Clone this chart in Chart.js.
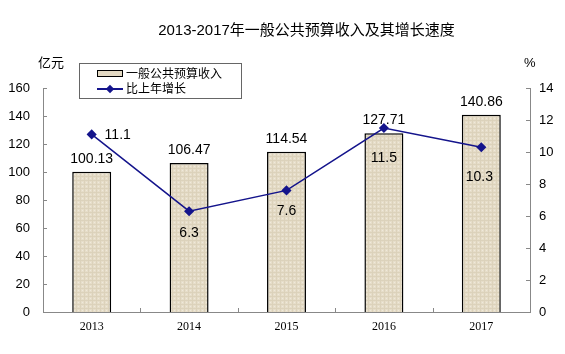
<!DOCTYPE html>
<html lang="zh">
<head>
  <meta charset="UTF-8">
  <title>2013-2017年一般公共预算收入及其增长速度</title>
  <script src="https://cdn.jsdelivr.net/npm/chart.js"></script>
  <style>
    body { margin: 0; background: #fff; }
    #wrap { position: relative; width: 565px; height: 354px; font-family: "Liberation Sans", "Noto Sans CJK SC", sans-serif; color: #000; }
    #title { position: absolute; left: 24px; top: 20px; width: 565px; text-align: center; font-size: 15px; line-height: 20px; }
    .unit { position: absolute; top: 54px; font-size: 13px; line-height: 18px; }
    #legend { position: absolute; left: 79px; top: 63px; width: 163px; height: 36px; border: 1px solid #666; box-sizing: border-box; font-size: 12px; }
    .item { position: absolute; left: 17px; height: 16px; line-height: 16px; }
    .sw { position: absolute; left: 0; top: 4px; width: 26px; height: 7px; background: #e3d9c3; border: 1px solid #000; box-sizing: border-box; }
    .ln { position: absolute; left: 0; top: 7px; width: 26px; height: 2px; background: #14148c; }
    .dm { position: absolute; left: 10px; top: 5px; width: 6px; height: 6px; background: #14148c; transform: rotate(45deg); }
    .item span { position: absolute; left: 29px; white-space: nowrap; }
  </style>
</head>
<body>
<div id="wrap">
  <canvas id="c" width="565" height="354"></canvas>
  <div id="title">2013-2017年一般公共预算收入及其增长速度</div>
  <div class="unit" style="left:38px">亿元</div>
  <div class="unit" style="left:524px">%</div>
  <div id="legend">
    <div class="item" style="top:2px"><div class="sw"></div><span>一般公共预算收入</span></div>
    <div class="item" style="top:17px"><div class="ln"></div><div class="dm"></div><span>比上年增长</span></div>
  </div>
</div>
<script>
  const years = ['2013', '2014', '2015', '2016', '2017'];
  const revenue = [100.13, 106.47, 114.54, 127.71, 140.86];
  const growth = [11.1, 6.3, 7.6, 11.5, 10.3];
  const leftTicks = [0, 20, 40, 60, 80, 100, 120, 140, 160];
  const rightTicks = [0, 2, 4, 6, 8, 10, 12, 14];

  // slight woven texture for the bars
  function makePattern() {
    const p = document.createElement('canvas');
    p.width = 4; p.height = 4;
    const g = p.getContext('2d');
    g.fillStyle = '#e6ddc9';
    g.fillRect(0, 0, 4, 4);
    g.fillStyle = '#dcd2bb';
    g.fillRect(0, 0, 4, 1);
    g.fillRect(0, 0, 1, 4);
    g.fillStyle = '#efe9db';
    g.fillRect(2, 2, 1, 1);
    return document.getElementById('c').getContext('2d').createPattern(p, 'repeat');
  }

  const growthOffsets = [[26, 1], [0, 22], [0, 21], [0, 30], [-2, 30]];

  const labelPlugin = {
    id: 'labels',
    afterDatasetsDraw(chart) {
      const ctx = chart.ctx;
      ctx.save();
      ctx.font = '14px "Liberation Sans", Arial, sans-serif';
      ctx.fillStyle = '#000';
      ctx.textAlign = 'center';
      ctx.textBaseline = 'middle';
      chart.getDatasetMeta(1).data.forEach((bar, i) => {
        ctx.fillText(revenue[i].toFixed(2), bar.x, bar.y - 13);
      });
      chart.getDatasetMeta(0).data.forEach((pt, i) => {
        const o = growthOffsets[i];
        ctx.fillText(growth[i].toFixed(1), pt.x + o[0], pt.y + o[1]);
      });
      ctx.restore();
    },
    afterDraw(chart) {
      // inward tick marks
      const ctx = chart.ctx;
      const a = chart.chartArea;
      const s = chart.scales;
      ctx.save();
      ctx.strokeStyle = '#888';
      ctx.lineWidth = 1;
      ctx.beginPath();
      leftTicks.forEach(v => {
        const y = Math.round(s.y.getPixelForValue(v)) + 0.5;
        ctx.moveTo(a.left, y); ctx.lineTo(a.left + 4, y);
      });
      rightTicks.forEach(v => {
        const y = Math.round(s.y1.getPixelForValue(v)) + 0.5;
        ctx.moveTo(a.right, y); ctx.lineTo(a.right - 4, y);
      });
      const w = (a.right - a.left) / years.length;
      for (let i = 1; i < years.length; i++) {
        const x = Math.round(a.left + w * i) + 0.5;
        ctx.moveTo(x, a.bottom); ctx.lineTo(x, a.bottom - 4);
      }
      ctx.stroke();
      ctx.restore();
    }
  };

  new Chart(document.getElementById('c'), {
    data: {
      labels: years,
      datasets: [
        {
          type: 'line',
          label: '比上年增长',
          data: growth,
          yAxisID: 'y1',
          borderColor: '#14148c',
          backgroundColor: '#14148c',
          borderWidth: 1.5,
          pointStyle: 'rectRot',
          pointRadius: 4,
          tension: 0,
          order: 0
        },
        {
          type: 'bar',
          label: '一般公共预算收入',
          data: revenue,
          yAxisID: 'y',
          backgroundColor: makePattern(),
          borderColor: '#000',
          borderWidth: 1.5,
          categoryPercentage: 1,
          barPercentage: 0.4,
          order: 1
        }
      ]
    },
    options: {
      responsive: false,
      animation: false,
      layout: { padding: { top: 88, left: 0, right: 0, bottom: 0 } },
      plugins: { legend: { display: false }, title: { display: false }, tooltip: { enabled: false } },
      scales: {
        x: {
          offset: true,
          grid: { display: false, drawTicks: false },
          border: { display: true, color: '#888', width: 1 },
          ticks: { padding: 8, color: '#000', font: { family: '"Liberation Serif", "DejaVu Serif", serif', size: 12 } },
          afterFit(scale) { scale.height = 42; }
        },
        y: {
          position: 'left',
          min: 0, max: 160,
          grid: { display: false, drawTicks: false },
          border: { display: true, color: '#888', width: 1 },
          ticks: { stepSize: 20, padding: 13, color: '#000', font: { family: '"Liberation Sans", Arial, sans-serif', size: 13 } },
          afterFit(scale) { scale.width = 43; }
        },
        y1: {
          position: 'right',
          min: 0, max: 14,
          grid: { display: false, drawTicks: false },
          border: { display: true, color: '#888', width: 1 },
          ticks: { stepSize: 2, padding: 9, color: '#000', font: { family: '"Liberation Sans", Arial, sans-serif', size: 13 } },
          afterFit(scale) { scale.width = 35; }
        }
      }
    },
    plugins: [labelPlugin]
  });
</script>
</body>
</html>
